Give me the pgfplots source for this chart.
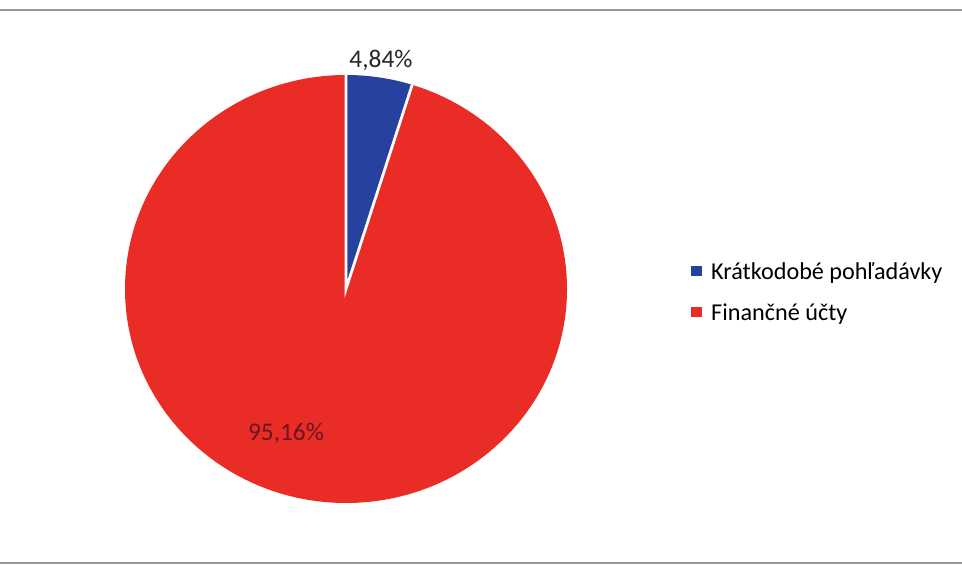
\documentclass[border=0pt]{standalone}
\usepackage{pgfplots}
\usepackage{pgfplotstable}
\usepackage{fontspec}
\setmainfont{Carlito}
\pgfplotsset{compat=1.18}
\definecolor{piered}{RGB}{234,44,38}
\definecolor{pieblue}{RGB}{38,66,158}
\definecolor{labred}{RGB}{105,22,30}
\definecolor{rulegray}{RGB}{150,150,160}

% share of each part in per cent
\pgfplotstableread[col sep=comma]{
name,value
Krátkodobé pohľadávky,4.84
Finančné účty,95.16
}\piedata

\begin{document}
\begin{tikzpicture}
\pgfplotstablegetelem{0}{value}\of\piedata
\let\va\pgfplotsretval
\pgfmathsetmacro{\aend}{90-3.6*\va}
\pgfmathsetmacro{\bx}{346+221*cos(\aend)}
\pgfmathsetmacro{\by}{278+214*sin(\aend)}
\begin{axis}[
    width=481pt, height=283.5pt, scale only axis,
    hide axis, clip=false,
    xmin=0, xmax=962, ymin=0, ymax=567,
    legend style={at={(axis cs:691,306)}, anchor=north west,
        draw=none, fill=none, inner sep=0pt,
        font=\fontsize{12.1}{15}\selectfont,
        row sep=8.5pt,
        nodes={inner sep=0pt, text height=9pt, text depth=3pt}},
    legend cell align=left,
    legend image code/.code={\fill[#1] (0pt,-1.2pt) rectangle (4.6pt,3.4pt); \path (9.5pt,0pt);},
    ]
    % sectors
    \fill[piered] (axis cs:346,278) -- (axis cs:346,492)
        arc[start angle=90, end angle=\aend+360, x radius=110.5pt, y radius=107pt] -- cycle;
    \fill[pieblue] (axis cs:346,278) -- (axis cs:\bx,\by)
        arc[start angle=\aend, end angle=90, x radius=110.5pt, y radius=107pt] -- cycle;
    \draw[white, line width=1.4pt] (axis cs:346,492) -- (axis cs:346,278) -- (axis cs:\bx,\by);

    \addlegendimage{pieblue}
    \addlegendentry{Krátkodobé pohľadávky}
    \addlegendimage{piered}
    \addlegendentry{Finančné účty}

    \node[font=\fontsize{12.7}{15}\selectfont, text=black!85] at (axis cs:381,507) {4,84\%};
    \node[font=\fontsize{12.7}{15}\selectfont, text=labred] at (axis cs:286,134) {95,16\%};

    \draw[rulegray, line width=0.6pt] (axis cs:0,557) -- (axis cs:962,557);
    \draw[rulegray, line width=0.6pt] (axis cs:0,4) -- (axis cs:962,4);
\end{axis}
\pgfresetboundingbox
\useasboundingbox (current axis.south west) rectangle (current axis.north east);
\end{tikzpicture}
\end{document}
